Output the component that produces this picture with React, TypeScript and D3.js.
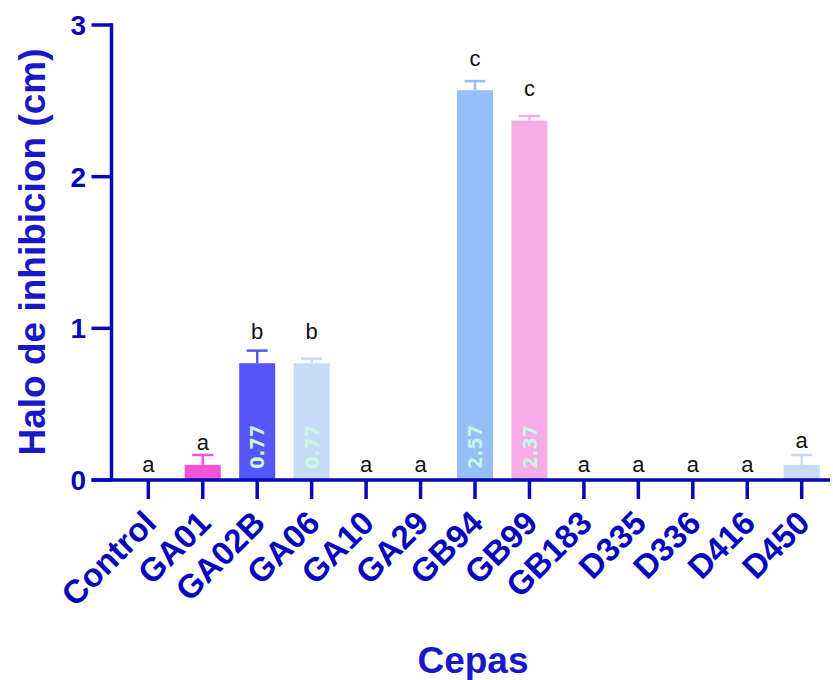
import React from "react";
import * as d3 from "d3";

const categories = ["Control", "GA01", "GA02B", "GA06", "GA10", "GA29", "GB94", "GB99", "GB183", "D335", "D336", "D416", "D450"];
const means = [0, 0.1, 0.77, 0.77, 0, 0, 2.57, 2.37, 0, 0, 0, 0, 0.1];
const errors = [0, 0.065, 0.083, 0.03, 0, 0, 0.06, 0.03, 0, 0, 0, 0, 0.065];
const barColors = ["#F552D3", "#F552D3", "#5656F6", "#C8DBF6", "#C8DBF6", "#C8DBF6", "#94BFF8", "#F5ACE7", "#C8DBF6", "#C8DBF6", "#C8DBF6", "#C8DBF6", "#C8DBF6"];
const sigLetters = ["a", "a", "b", "b", "a", "a", "c", "c", "a", "a", "a", "a", "a"];
const letterHeights = [0.05, 0.2, 0.93, 0.93, 0.05, 0.05, 2.73, 2.53, 0.05, 0.05, 0.05, 0.05, 0.21];
const valueLabels = ["", "", "0.77", "0.77", "", "", "2.57", "2.37", "", "", "", "", ""];
const yTicks = [0, 1, 2, 3];

const W = 833;
const H = 680;
const AXIS = "#0606BC";
const TITLE = "#1818C8";

export default function App() {
  const x = d3.scalePoint<string>().domain(categories).range([148.3, 801.7]);
  const y = d3.scaleLinear().domain([0, 3]).range([480, 25]);
  const barW = 36;
  const capW = 21;
  const x0 = 111.5;
  const xEnd = 830;
  const font = "Arial, 'Liberation Sans', Helvetica, sans-serif";

  return (
    <svg width={W} height={H} style={{ position: "absolute", left: 0, top: 0, background: "#fff" }} fontFamily={font}>
      {/* bars */}
      {categories.map((c, i) => {
        const cx = x(c)!;
        if (means[i] <= 0) return null;
        return (
          <g key={c}>
            <line x1={cx} x2={cx} y1={y(means[i])} y2={y(means[i] + errors[i])} stroke={barColors[i]} strokeWidth={2.5} />
            <line x1={cx - capW / 2} x2={cx + capW / 2} y1={y(means[i] + errors[i])} y2={y(means[i] + errors[i])} stroke={barColors[i]} strokeWidth={2.5} />
            <rect x={cx - barW / 2} y={y(means[i])} width={barW} height={y(0) - y(means[i])} fill={barColors[i]} />
          </g>
        );
      })}
      {/* value labels */}
      {categories.map((c, i) =>
        valueLabels[i] ? (
          <text key={"v" + c} transform={`translate(${x(c)},${469}) rotate(-90)`} dy="0.36em" fontSize={20}
            fontFamily="'DejaVu Sans Condensed', 'DejaVu Sans', sans-serif" fontStretch="condensed" fontWeight="bold" fill="#C9F5E4">{valueLabels[i]}</text>
        ) : null
      )}
      {/* significance letters */}
      {categories.map((c, i) => (
        <text key={"l" + c} x={x(c)} y={y(letterHeights[i])} textAnchor="middle" fontSize={22} fill="#111">{sigLetters[i]}</text>
      ))}
      {/* y axis */}
      <line x1={x0} x2={x0} y1={y(3) - 1.75} y2={y(0)} stroke={AXIS} strokeWidth={3.5} />
      {yTicks.map((t) => (
        <g key={t}>
          <line x1={x0 - 20} x2={x0} y1={y(t)} y2={y(t)} stroke={AXIS} strokeWidth={3.5} />
          <text x={86} y={y(t)} dy="0.36em" textAnchor="end" fontSize={28} fontWeight="bold" fill={AXIS}>{t}</text>
        </g>
      ))}
      {/* x axis */}
      <line x1={x0 - 20} x2={xEnd} y1={y(0)} y2={y(0)} stroke={AXIS} strokeWidth={3.5} />
      {categories.map((c) => (
        <g key={"t" + c}>
          <line x1={x(c)} x2={x(c)} y1={y(0)} y2={y(0) + 19} stroke={AXIS} strokeWidth={3.5} />
          <text transform={`translate(${x(c)! + 10},${525}) rotate(-45)`} textAnchor="end" fontSize={33} fontWeight="bold" fill={AXIS}>{c}</text>
        </g>
      ))}
      {/* titles */}
      <text transform={`translate(${45},${252}) rotate(-90)`} textAnchor="middle" fontSize={37} fontWeight="bold" fill={TITLE}>Halo de inhibicion (cm)</text>
      <text x={473} y={673} textAnchor="middle" fontSize={37} fontWeight="bold" fill={TITLE}>Cepas</text>
    </svg>
  );
}
